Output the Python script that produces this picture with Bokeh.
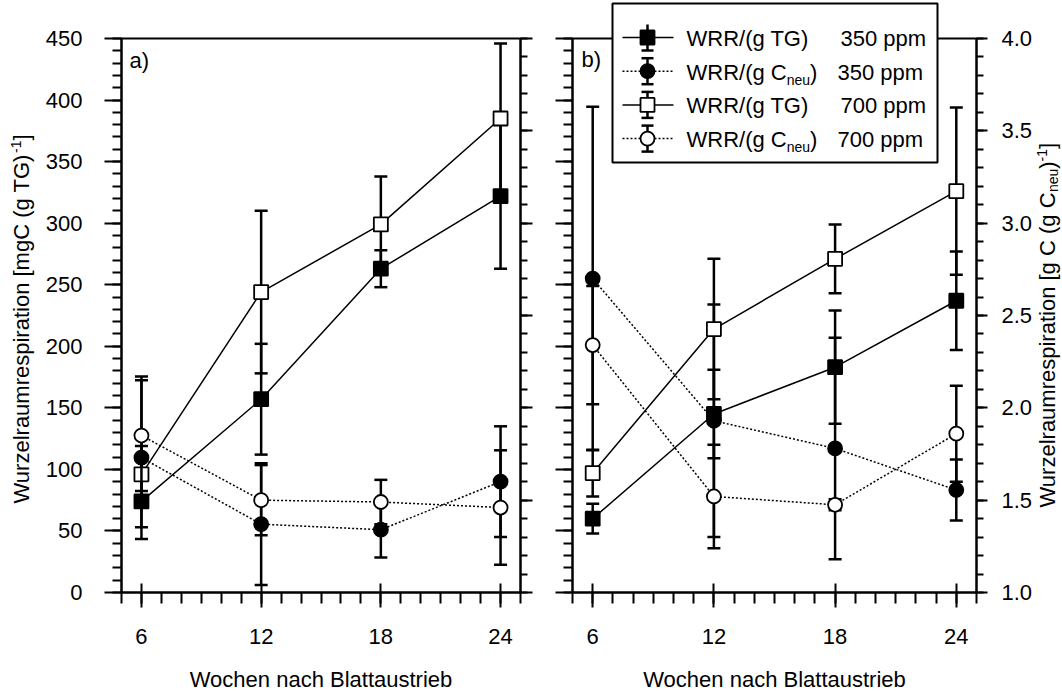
from bokeh.plotting import figure
from bokeh.models import Range1d, LinearAxis, FixedTicker, PrintfTickFormatter
from bokeh.core.properties import value
from bokeh.layouts import row
from bokeh.embed import file_html
from bokeh.resources import INLINE

# ---------------- data ----------------
weeks = [6, 12, 18, 24]

# panel a  (TG series on left axis [mgC (g TG)^-1], C_neu series on right axis)
a_tg350 = [74, 157, 263, 322]
a_tg350_err = [21, 45, 15, 59]
a_cn350 = [1.73, 1.37, 1.34, 1.60]
a_cn350_err = [0.44, 0.33, 0.15, 0.30]
a_tg700 = [96, 244, 299, 385]
a_tg700_err = [23, 66, 39, 61]
a_cn700 = [1.85, 1.50, 1.49, 1.46]
a_cn700_err = [0.30, 0.19, 0.12, 0.31]

# panel b
b_tg350 = [60, 145, 183, 237]
b_tg350_err = [12, 36, 46, 40]
b_cn350 = [2.70, 1.93, 1.78, 1.555]
b_cn350_err = [0.93, 0.63, 0.60, 0.165]
b_tg700 = [97, 214, 271, 326]
b_tg700_err = [19, 57, 28, 68]
b_cn700 = [2.34, 1.52, 1.475, 1.86]
b_cn700_err = [0.32, 0.28, 0.03, 0.26]

x_major = [6, 12, 18, 24]
x_minor = list(range(5, 26))
left_major = list(range(0, 451, 50))
left_minor = list(range(0, 451, 10))
right_major = [1.0, 1.5, 2.0, 2.5, 3.0, 3.5, 4.0]
right_minor = [round(1.0 + 0.1 * i, 1) for i in range(31)]

legend_names = ["WRR/(g TG)", "WRR/(g C", "WRR/(g TG)", "WRR/(g C"]
legend_sub = ["", "neu", "", "neu"]
legend_ppm = ["350 ppm", "350 ppm", "700 ppm", "700 ppm"]
x_title = "Wochen nach Blattaustrieb"

FONT = "Liberation Sans"
FS = "22px"
SFS = "14px"
BOFF = 7      # baseline correction for 22px text (px)
SBOFF = 4.5   # baseline correction for 14px text (px)

# series styles: (marker, filled, dash)
styles = [("square", True, "solid"), ("circle", True, "2 2"),
          ("square", False, "solid"), ("circle", False, "2 2")]


def txt(p, x, y, text, size=FS, align="left", baseline="alphabetic", angle=0):
    p.text(x=[x], y=[y], text=[text], angle=angle, angle_units="deg",
           text_font=value(FONT), text_font_size=value(size), text_align=align,
           text_baseline=baseline, text_color="black", level="overlay")


def draw_series(p, y, err, style, rng="default"):
    marker, filled, dash = style
    lo = [v - e for v, e in zip(y, err)]
    hi = [v + e for v, e in zip(y, err)]
    p.line(weeks, y, line_color="black", line_width=1.5, line_dash=dash, y_range_name=rng)
    p.segment(x0=weeks, y0=lo, x1=weeks, y1=hi, line_color="black", line_width=2.5, y_range_name=rng)
    p.scatter(weeks + weeks, lo + hi, marker="dash", size=13, line_color="black",
              line_width=2.5, y_range_name=rng)
    p.scatter(weeks, y, marker=marker, size=14, line_color="black", line_width=1.8,
              fill_color="black" if filled else "white", y_range_name=rng)


def style_axis(ax, tick_out, minor_out, tick_in=0, labels=True, standoff=10):
    ax.axis_line_color = "black"
    ax.axis_line_width = 2
    ax.major_tick_line_color = "black"
    ax.major_tick_line_width = 2
    ax.minor_tick_line_color = "black"
    ax.minor_tick_line_width = 2
    ax.major_tick_out = tick_out
    ax.major_tick_in = tick_in
    ax.minor_tick_out = minor_out
    ax.minor_tick_in = 0
    ax.major_label_text_font = FONT
    ax.major_label_standoff = standoff
    if labels:
        ax.major_label_text_font_size = FS
        ax.major_label_text_color = "black"
    else:
        ax.major_label_text_font_size = "0px"
        ax.major_label_text_color = None


def style_xaxis(ax):
    ax.ticker = FixedTicker(ticks=x_major, minor_ticks=x_minor)
    style_axis(ax, 15, 11, tick_in=9, standoff=21)


def make_fig(width, bl, br):
    p = figure(width=width, height=691, x_range=Range1d(5, 25), y_range=Range1d(0, 450),
               output_backend="svg", toolbar_location=None,
               min_border_left=bl, min_border_right=br, min_border_top=38, min_border_bottom=99)
    p.extra_y_ranges = {"right": Range1d(1, 4)}
    p.xgrid.visible = False
    p.ygrid.visible = False
    p.outline_line_color = "black"
    p.outline_line_width = 2
    p.background_fill_color = "white"
    p.border_fill_color = "white"
    return p


# ---------------- panel a ----------------
WA, LA, RA = 540, 121, 20
pa = make_fig(WA, LA, RA)
FWA = WA - LA - RA


def ax_(cx):
    return 5 + (cx - LA) * 20.0 / FWA


def ay_(cy):
    return (592 - cy) * 450.0 / 554


style_xaxis(pa.xaxis[0])
ya = pa.yaxis[0]
ya.ticker = FixedTicker(ticks=left_major, minor_ticks=left_minor)
style_axis(ya, 17, 9, standoff=22)
ra = LinearAxis(y_range_name="right", ticker=FixedTicker(ticks=right_major, minor_ticks=right_minor))
style_axis(ra, 12, 7, labels=False, standoff=0)
pa.add_layout(ra, "right")

for y, e, st, rng in [(a_tg350, a_tg350_err, styles[0], "default"),
                      (a_cn350, a_cn350_err, styles[1], "right"),
                      (a_tg700, a_tg700_err, styles[2], "default"),
                      (a_cn700, a_cn700_err, styles[3], "right")]:
    draw_series(pa, y, e, st, rng)

txt(pa, ax_(129), ay_(60), "a)", baseline="middle")
txt(pa, ax_(320.5), ay_(686 - BOFF), x_title, align="center")

# left rotated title (baseline at x=28, reading bottom to top)
txt(pa, ax_(28 - BOFF), ay_(503), "Wurzelraumrespiration [mgC (g TG)", angle=90)
txt(pa, ax_(20 - SBOFF), ay_(152.5), "-1", size=SFS, angle=90)
txt(pa, ax_(28 - BOFF), ay_(140), "]", angle=90)

# ---------------- panel b ----------------
WB, LB, RB = 522, 32, 86
pb = make_fig(WB, LB, RB)
FWB = WB - LB - RB
OX = WA  # canvas offset of panel b


def bx_(cx):
    return 5 + (cx - OX - LB) * 20.0 / FWB


def by_(cy):
    return (592 - cy) * 450.0 / 554


style_xaxis(pb.xaxis[0])
yb = pb.yaxis[0]
yb.ticker = FixedTicker(ticks=left_major, minor_ticks=left_minor)
style_axis(yb, 17, 9, labels=False, standoff=0)
rb = LinearAxis(y_range_name="right", ticker=FixedTicker(ticks=right_major, minor_ticks=right_minor),
                formatter=PrintfTickFormatter(format="%.1f"))
style_axis(rb, 11, 7, standoff=14)
pb.add_layout(rb, "right")

for y, e, st, rng in [(b_tg350, b_tg350_err, styles[0], "default"),
                      (b_cn350, b_cn350_err, styles[1], "right"),
                      (b_tg700, b_tg700_err, styles[2], "default"),
                      (b_cn700, b_cn700_err, styles[3], "right")]:
    draw_series(pb, y, e, st, rng)

txt(pb, bx_(581), by_(59), "b)", baseline="middle")
txt(pb, bx_(774), by_(686 - BOFF), x_title, align="center")

# right rotated title (baseline at x~1054, reading bottom to top)
rt_pieces = [("Wurzelraumrespiration [g C (g C", FS, 1054 - BOFF, 315.4),
             ("neu", SFS, 1057 - SBOFF, 23.4),
             (")", FS, 1054 - BOFF, 7.3),
             ("-1", SFS, 1046 - SBOFF, 12.4),
             ("]", FS, 1054 - BOFF, 6.1)]
cy = 507
for t, fs, cx, w in rt_pieces:
    txt(pb, bx_(cx), by_(cy), t, size=fs, angle=90)
    cy -= w

# legend (drawn above the frame)
pb.quad(left=bx_(612), right=bx_(937), top=by_(3), bottom=by_(162),
        fill_color="white", line_color="black", line_width=2, level="overlay")
for i in range(4):
    marker, filled, dash = styles[i]
    rcy = 37 + i * 33.7
    pb.line([bx_(622), bx_(673)], [by_(rcy), by_(rcy)], line_color="black", line_width=1.5,
            line_dash=dash, level="overlay")
    pb.segment(x0=[bx_(647)], y0=[by_(rcy - 13)], x1=[bx_(647)], y1=[by_(rcy + 13)],
               line_color="black", line_width=2.5, level="overlay")
    pb.scatter([bx_(647), bx_(647)], [by_(rcy - 13), by_(rcy + 13)], marker="dash", size=12,
               line_color="black", line_width=2.5, level="overlay")
    pb.scatter([bx_(647)], [by_(rcy)], marker=marker, size=14, line_color="black", line_width=1.8,
               fill_color="black" if filled else "white", level="overlay")
    base = rcy + 8
    txt(pb, bx_(686), by_(base - BOFF), legend_names[i])
    if legend_sub[i]:
        txt(pb, bx_(786.2), by_(base + 5 - SBOFF), legend_sub[i], size=SFS)
        txt(pb, bx_(809.6), by_(base - BOFF), ")")
    txt(pb, bx_(840 if i % 2 == 0 else 837), by_(base - BOFF), legend_ppm[i])

layout = row(pa, pb)
open("out.html", "w").write(file_html(layout, INLINE))
